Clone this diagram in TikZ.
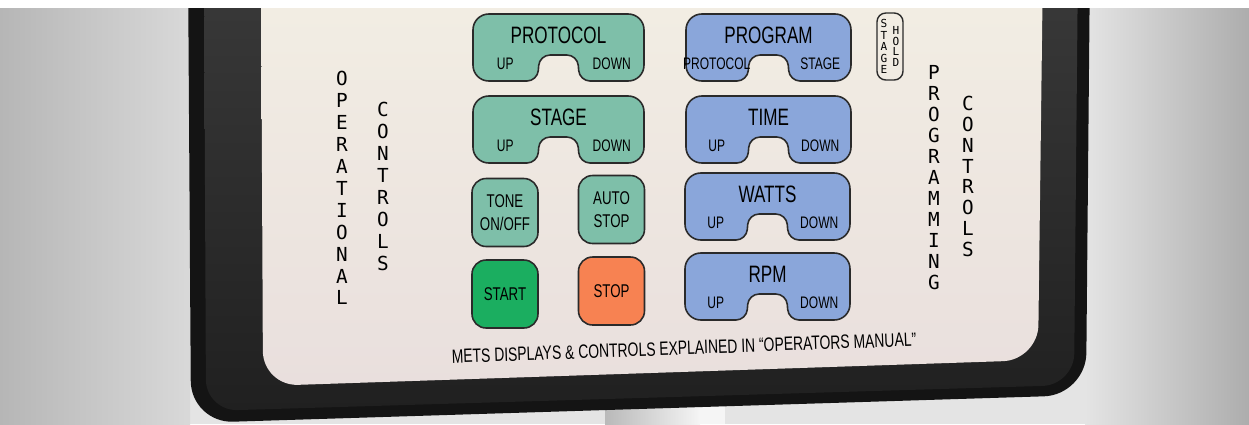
\documentclass[tikz,border=0pt]{standalone}
\usepackage{fontspec}
\usetikzlibrary{calc}
\newfontfamily\keyfont[FakeStretch=0.72]{Liberation Sans}
\newfontfamily\letterfont{DejaVu Sans Mono}

\definecolor{bgside}{HTML}{B6B6B6}
\definecolor{bgmid}{HTML}{E4E4E4}
\definecolor{framedark}{HTML}{141414}
\definecolor{framehi}{HTML}{3A3A3A}
\definecolor{framelo}{HTML}{202020}
\definecolor{paneltop}{HTML}{F3EFE4}
\definecolor{panelbot}{HTML}{E9DFDD}
\definecolor{tealkey}{HTML}{7EBFA9}
\definecolor{bluekey}{HTML}{8AA6DA}
\definecolor{startkey}{HTML}{1BAE60}
\definecolor{stopkey}{HTML}{F78252}
\definecolor{keyedge}{HTML}{2A2A2A}

% key with a notch in its lower edge
\newcommand{\notchkey}[9]{%
  \pgfmathsetmacro{\kcx}{(#2+#4)/2}
  \pgfmathsetmacro{\klx}{(#2+\kcx-21)/2}
  \pgfmathsetmacro{\krx}{(#4+\kcx+21)/2}
  \filldraw[keyline, fill=#6, rounded corners=9] (#2,#3) -- (#4,#3) -- (#4,#5)
    [rounded corners=6] -- (\kcx+21,#5) -- (\kcx+19,#5-26) -- (\kcx-19,#5-26) -- (\kcx-21,#5)
    [rounded corners=9] -- (#2,#5) -- cycle;
  \node[keytitle] (#1-t) at (\kcx,#3+21) {#7};
  \node[keylabel] (#1-l) at (\klx,#5-17) {#8};
  \node[keylabel] (#1-r) at (\krx,#5-17) {#9};
}

\begin{document}
\begin{tikzpicture}[
    x=0.02cm, y=-0.02cm,
    keyline/.style = {draw=keyedge, line width=0.9pt},
    keytitle/.style = {inner sep=0pt, font=\fontsize{13.5}{14}\keyfont},
    keylabel/.style = {inner sep=0pt, font=\fontsize{9.5}{10}\keyfont},
    smallkey/.style = {rectangle, keyline, rounded corners=8, align=center,
      minimum width=1.32cm, minimum height=1.36cm, inner sep=0pt,
      font=\fontsize{10.5}{13}\keyfont},
    vertlbl/.style = {align=center, inner sep=0pt, font=\fontsize{11}{12.5}\letterfont},
    tinylbl/.style = {align=center, inner sep=0pt, font=\fontsize{6.3}{6.6}\letterfont},
  ]
  \useasboundingbox (0,0) rectangle (1249,424);
  \clip (0,0) rectangle (1249,424);

  % backdrop
  \fill[bgmid] (0,0) rectangle (1249,424);
  \shade[left color=bgside, right color=bgmid!95!black] (0,0) rectangle (190,424);
  \shade[left color=bgmid, right color=bgside!95!black] (1085,0) rectangle (1249,424);
  % stand
  \shade[left color=gray!55, right color=white!92!gray] (605,395) rectangle (700,424);
  \fill[white!92!gray] (699,395) rectangle (725,424);

  % housing and face
  \fill[framedark, rounded corners=24] (188,-40) -- (191,423) -- (1086,395) -- (1090,-40) -- cycle;
  \shade[top color=framehi, bottom color=framelo, rounded corners=18]
    (204,-40) -- (206,411) -- (1074,385) -- (1078,-40) -- cycle;
  \shade[top color=paneltop, bottom color=panelbot, rounded corners=20]
    (261,-40) -- (263,386) -- (1038,360) -- (1043,-40) -- cycle;

  % operational keys
  \notchkey{protocol}{473}{14}{644}{81}{tealkey}{PROTOCOL}{UP}{DOWN}
  \notchkey{stage}{473}{96}{644}{163}{tealkey}{STAGE}{UP}{DOWN}
  \node[smallkey, fill=tealkey] (tone) at (505,212.5) {TONE\\ON/OFF};
  \node[smallkey, fill=tealkey] (autostop) at (611.5,209.5) {AUTO\\STOP};
  \node[smallkey, fill=startkey] (start) at (505,294) {START};
  \node[smallkey, fill=stopkey] (stop) at (611.5,291) {STOP};

  % programming keys
  \notchkey{program}{686}{14}{851}{81}{bluekey}{PROGRAM}{PROTOCOL}{STAGE}
  \notchkey{time}{686}{96}{851}{163}{bluekey}{TIME}{UP}{DOWN}
  \notchkey{watts}{685}{173}{850}{240}{bluekey}{WATTS}{UP}{DOWN}
  \notchkey{rpm}{685}{253}{850}{320}{bluekey}{RPM}{UP}{DOWN}

  % stage hold key
  \draw[keyedge, line width=0.8pt, rounded corners=5] (877,13) rectangle (903,80);
  \node[tinylbl] (stagelbl) at (884,46.5) {S\\T\\A\\G\\E};
  \node[tinylbl, font=\fontsize{6.3}{6.2}\letterfont] (holdlbl) at (896,46.5) {H\\O\\L\\D};

  % side captions
  \node[vertlbl] (oplbl) at (342,188) {O\\P\\E\\R\\A\\T\\I\\O\\N\\A\\L};
  \node[vertlbl] (opctl) at (383,186.5) {C\\O\\N\\T\\R\\O\\L\\S};
  \node[vertlbl, font=\fontsize{11}{12}\letterfont] (prglbl) at (934,177.5) {P\\R\\O\\G\\R\\A\\M\\M\\I\\N\\G};
  \node[vertlbl, font=\fontsize{11}{11.9}\letterfont] (prgctl) at (968,176.5) {C\\O\\N\\T\\R\\O\\L\\S};

  \node[inner sep=0pt, rotate=2.1, font=\fontsize{11}{12}\keyfont] (note) at (684,348)
    {METS DISPLAYS \& CONTROLS EXPLAINED IN “OPERATORS MANUAL”};

  % photo edge
  \fill[white] (0,0) rectangle (1249,8);
\end{tikzpicture}
\end{document}
